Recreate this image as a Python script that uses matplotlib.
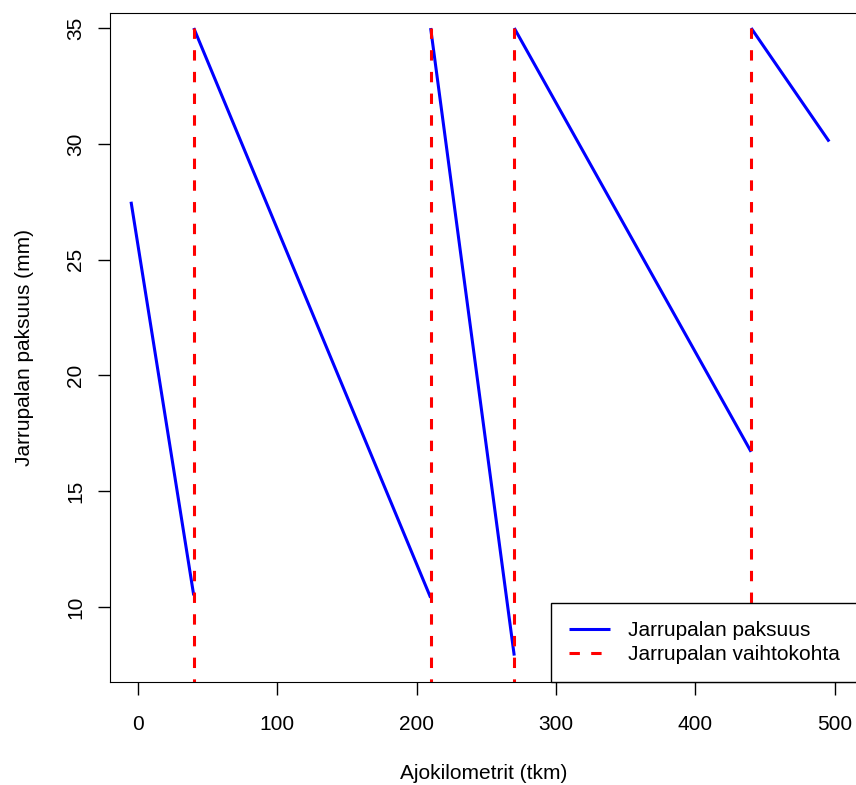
import numpy as np
import matplotlib
matplotlib.use("Agg")
import matplotlib.pyplot as plt

# brake pad thickness between replacements
seg_start_km = [-5, 40, 210, 270, 440]
seg_end_km = [40, 210, 270, 440, 496]
start_mm = [27.5, 35, 35, 35, 35]
end_mm = [10.5, 10.4, 7.9, 16.7, 30.1]

# replacement points
change_km = [40, 210, 270, 440]
new_pad_mm = 35

plt.rcParams['font.family'] = ['Liberation Sans', 'DejaVu Sans']
plt.rcParams['font.size'] = 15

fig = plt.figure(figsize=(8.56, 7.85), dpi=100)
ax = fig.add_axes([110 / 856, 103 / 785, 748 / 856, 669 / 785])

for i in range(len(seg_start_km)):
    ax.plot([seg_start_km[i], seg_end_km[i]], [start_mm[i], end_mm[i]],
            color='blue', lw=2.2, solid_capstyle='butt',
            label='Jarrupalan paksuus' if i == 0 else None)

for i, k in enumerate(change_km):
    # drawn top-down so the dash pattern starts at the new pad value
    ax.plot([k, k], [new_pad_mm, 0], color='red', lw=2.2,
            linestyle=(0, (3.4, 3.7)), dash_capstyle='butt',
            label='Jarrupalan vaihtokohta' if i == 0 else None)

ax.set_xlim(-20.1, 516.7)
ax.set_ylim(6.76, 35.65)
ax.set_xticks([0, 100, 200, 300, 400, 500])
ax.set_yticks([10, 15, 20, 25, 30, 35])
ax.tick_params(length=9, width=1)
ax.tick_params(axis='x', pad=14.5)
ax.tick_params(axis='y', pad=9)
for lbl in ax.get_yticklabels():
    lbl.set_rotation(90)
    lbl.set_va('center')

xl = ax.set_xlabel('Ajokilometrit (tkm)')
xl.set_va('baseline')
ax.xaxis.set_label_coords(0.5, -(779 - 682) / 669)

yl = ax.set_ylabel('Jarrupalan paksuus (mm)')
yl.set_rotation_mode('anchor')
yl.set_ha('center')
yl.set_va('baseline')
ax.yaxis.set_label_coords(-(110 - 30) / 748, 0.5)

leg = ax.legend(loc='lower right', borderaxespad=0, fancybox=False,
                edgecolor='black', framealpha=1, handlelength=1.97,
                handletextpad=0.9, borderpad=0.85, labelspacing=0.25)
leg.get_frame().set_linewidth(1)

fig.savefig('out.png', dpi=100)
